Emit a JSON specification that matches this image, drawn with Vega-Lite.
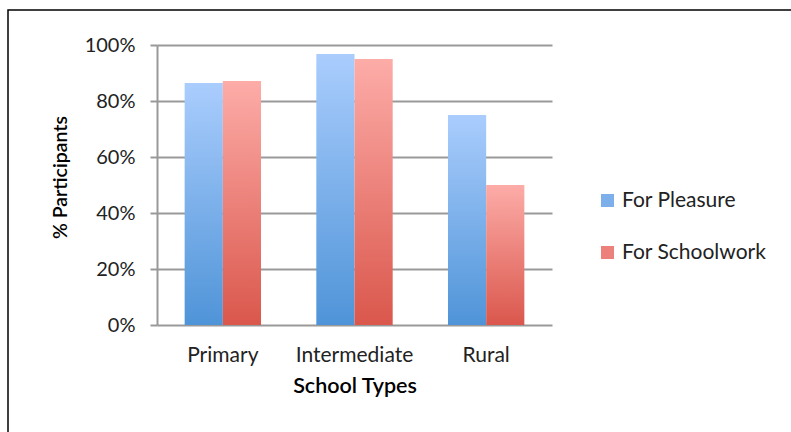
{
  "$schema": "https://vega.github.io/schema/vega-lite/v6.json",
  "width": 790,
  "height": 430,
  "autosize": {"type": "none"},
  "padding": {"left": 8, "top": 10, "right": -7, "bottom": -8},
  "background": "white",
  "config": {
    "view": {"stroke": "black", "strokeWidth": 1.5},
    "font": "Lato"
  },
  "data": {
    "values": [
      {"school": "Primary", "series": "For Pleasure", "value": 0.864},
      {"school": "Primary", "series": "For Schoolwork", "value": 0.871},
      {"school": "Intermediate", "series": "For Pleasure", "value": 0.968},
      {"school": "Intermediate", "series": "For Schoolwork", "value": 0.95},
      {"school": "Rural", "series": "For Pleasure", "value": 0.75},
      {"school": "Rural", "series": "For Schoolwork", "value": 0.5}
    ]
  },
  "encoding": {
    "x": {
      "field": "school",
      "type": "nominal",
      "sort": ["Primary", "Intermediate", "Rural"],
      "scale": {"range": [149, 544], "paddingInner": 0.42, "paddingOuter": 0.21},
      "axis": {
        "orient": "bottom",
        "offset": -115,
        "domain": false,
        "ticks": false,
        "labelAngle": 0,
        "labelPadding": 19,
        "labelFontSize": 21,
        "labelColor": "#222",
        "title": "School Types",
        "titleFontSize": 21.5,
        "titleFontWeight": 600,
        "titleColor": "#000",
        "titlePadding": 10
      }
    },
    "xOffset": {"field": "series", "type": "nominal", "sort": ["For Pleasure", "For Schoolwork"]}
  },
  "layer": [
    {
      "mark": {"type": "bar"},
      "encoding": {
        "y": {
          "field": "value",
          "type": "quantitative",
          "scale": {"domain": [0, 1], "range": [315, 35], "nice": false},
          "axis": {
            "orient": "left",
            "offset": -149,
            "values": [0, 0.2, 0.4, 0.6, 0.8, 1],
            "format": ".0%",
            "grid": false,
            "domain": true,
            "domainColor": "#999",
            "domainWidth": 2,
            "tickColor": "#999",
            "tickWidth": 2,
            "tickSize": 7,
            "labelPadding": 15,
            "labelFontSize": 20,
            "labelColor": "#222",
            "title": "% Participants",
            "titleFontSize": 19.5,
            "titleFontWeight": 600,
            "titleColor": "#000",
            "titlePadding": 14,
            "titleY": 167
          }
        },
        "color": {
          "field": "series",
          "type": "nominal",
          "condition": [
            {"test": "datum.series === 'For Pleasure'", "value": {"gradient": "linear", "x1": 0, "y1": 0, "x2": 0, "y2": 1, "stops": [{"offset": 0, "color": "#aacdfd"}, {"offset": 1, "color": "#4f94d8"}]}},
            {"test": "datum.series === 'For Schoolwork'", "value": {"gradient": "linear", "x1": 0, "y1": 0, "x2": 0, "y2": 1, "stops": [{"offset": 0, "color": "#fdaca8"}, {"offset": 1, "color": "#da574c"}]}}
          ],
          "scale": {
            "domain": ["For Pleasure", "For Schoolwork"],
            "range": ["#7db0ea", "#ec807a"]
          },
          "legend": {
            "orient": "none",
            "legendX": 589,
            "legendY": 180,
            "title": null,
            "padding": 0,
            "symbolType": "square",
            "symbolSize": 169,
            "symbolStrokeWidth": 0,
            "symbolOpacity": 1,
            "labelFontSize": 21,
            "labelColor": "#222",
            "labelOffset": 4,
            "rowPadding": 30
          }
        }
      }
    },
    {
      "mark": {"type": "bar", "opacity": 0},
      "encoding": {
        "y": {
          "field": "value",
          "type": "quantitative",
          "axis": {
            "orient": "left",
            "offset": -149,
            "values": [0, 0.2, 0.4, 0.6, 0.8, 1],
            "grid": false,
            "domain": false,
            "labels": false,
            "title": null,
            "tickColor": "#999",
            "tickWidth": 2,
            "tickSize": -395,
            "zindex": 0
          }
        }
      }
    }
  ],
  "resolve": {"axis": {"y": "independent"}}
}
